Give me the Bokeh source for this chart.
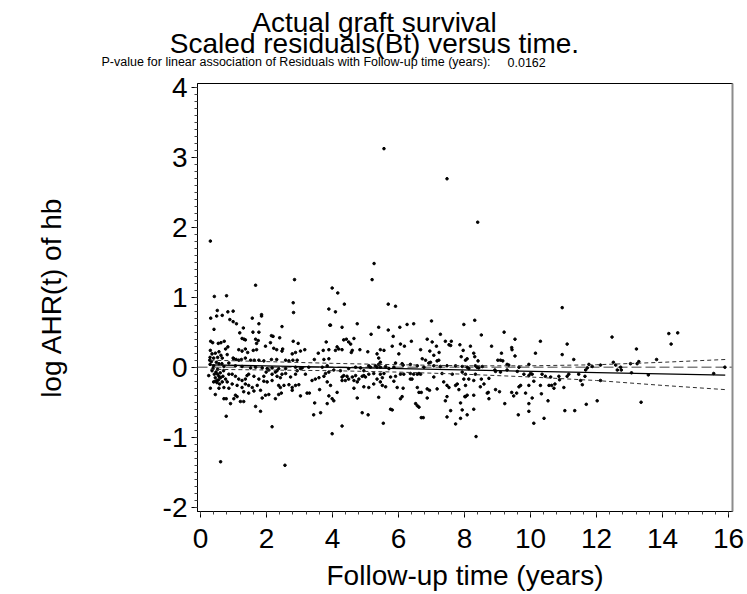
from bokeh.plotting import figure
from bokeh.layouts import column
from bokeh.models import Span, SingleIntervalTicker, FixedTicker, LinearAxis, Range1d, CustomJSTickFormatter
from bokeh.core.properties import value
from bokeh.embed import file_html
from bokeh.resources import INLINE

title_lines = ["Actual graft survival", "Scaled residuals(Bt) versus time."]
pvalue_text = "P-value for linear association of Residuals with Follow-up time (years):"
pvalue = "0.0162"
x_label = "Follow-up time (years)"
y_label = "log AHR(t) of hb"

# scaled residuals (follow-up time in years, residual)
time_years = [
    1.67, 2.85, 0.42, 0.79, 2.81, 2.82, 3.89, 0.51, 0.31, 0.66, 0.49, 0.83, 0.99, 0.89, 0.99, 1.09, 1.57, 1.85, 1.85, 1.77,
    1.30, 2.47, 3.92, 0.41, 1.19, 1.59, 1.77, 2.15, 2.20, 2.40, 1.26, 1.36, 1.32, 1.67, 1.75, 0.31, 0.37, 0.54, 0.62, 0.72,
    2.81, 2.96, 2.12, 1.97, 1.70, 3.81, 0.83, 0.76, 1.16, 1.26, 1.36, 1.43, 1.60, 1.70, 2.22, 2.31, 2.49, 2.47, 2.78, 2.88,
    3.03, 3.16, 3.57, 3.72, 3.89, 0.30, 0.35, 0.45, 0.56, 0.62, 0.29, 0.40, 0.52, 0.66, 0.81, 1.01, 0.99, 1.08, 1.16, 1.24,
    1.36, 1.52, 1.63, 1.77, 1.92, 2.15, 2.31, 2.58, 2.68, 2.80, 2.93, 3.45, 3.74, 3.89,
    0.29, 0.40, 0.56, 0.71, 0.86, 1.06, 1.26, 1.52, 1.67, 1.87, 2.02, 2.17, 2.37, 2.58, 2.88, 3.03, 3.08, 3.28, 3.69, 3.84,
    0.35, 0.47, 0.52, 0.56, 0.61, 0.68, 0.76, 0.51, 0.40, 0.45, 0.66, 0.81, 0.86, 0.96, 1.06, 1.16, 1.26, 1.36, 1.41, 1.46,
    1.62, 1.77, 1.92, 1.99, 2.07, 2.17, 2.27, 2.32, 2.42, 2.47, 2.58, 2.73, 2.88, 2.93, 2.32, 2.17, 2.02, 1.92, 2.37, 2.42,
    2.53, 2.68, 2.78, 2.88, 2.98, 3.18, 3.38, 3.48, 3.59, 3.74, 3.79, 3.89, 3.94, 3.84, 0.30, 0.45, 0.56, 0.71, 0.86, 0.96,
    1.11, 1.26, 1.36, 1.46, 1.57, 1.62, 1.72, 1.82, 1.46, 1.31, 1.06, 1.01, 1.11, 0.71, 0.91, 0.78, 1.21, 1.31, 1.87, 1.97,
    2.07, 2.27, 2.37, 2.45, 2.78, 3.03, 3.23, 3.30, 3.61, 3.46, 3.89, 3.84, 3.64, 3.43, 1.67, 1.82, 2.17, 0.78, 0.61, 2.56,
    0.45, 0.50, 0.55, 0.42, 0.60, 0.38, 0.48, 0.33, 0.25, 0.58, 0.52, 0.65, 0.28, 0.70,
    5.20, 3.99, 4.16, 4.36, 4.09, 5.69, 5.91, 3.94, 4.75, 4.29, 5.40, 5.69, 6.04, 6.26, 6.46, 7.00, 7.98, 5.17, 5.84, 7.27,
    4.34, 4.42, 4.49, 4.55, 4.65, 6.06, 6.18, 6.39, 6.87, 7.02, 7.15, 7.42, 7.53, 7.60, 7.58, 7.86, 4.14, 4.09, 4.19, 4.29,
    4.60, 4.57, 4.83, 5.07, 5.45, 5.56, 5.35, 5.40, 5.81, 6.01, 6.67, 6.95, 7.07, 7.23, 7.96, 7.90, 6.72, 6.82, 6.92, 6.97,
    7.17, 7.22, 6.11, 5.91, 5.45, 5.40, 5.10, 5.15, 5.30, 5.35, 5.45, 5.61, 5.71, 5.86, 6.14, 6.36, 6.57, 6.77, 7.07, 7.27,
    7.47, 7.73, 7.93, 4.04, 4.24, 4.49, 4.70, 4.85, 4.95, 4.34, 4.29, 4.44, 4.49, 4.60, 4.70, 4.80, 4.90, 4.95, 5.00, 5.10,
    5.25, 5.45, 5.51, 5.56, 5.76, 5.91, 6.06, 6.16, 6.36, 6.41, 6.46, 6.57, 6.62, 6.67, 7.07, 7.32, 7.63, 7.93, 7.98, 4.29,
    4.39, 4.65, 4.75, 5.35, 5.45, 5.51, 5.61, 4.95, 4.65, 5.10, 5.25, 5.86, 5.96, 6.14, 6.36, 6.57, 6.62, 6.69, 6.87, 6.94,
    7.17, 7.37, 7.47, 7.53, 7.73, 7.78, 7.83, 8.01, 4.14, 4.75, 3.99, 4.04, 5.40, 6.06, 6.11, 6.87, 7.47, 7.42, 7.88, 7.93,
    6.52, 6.57, 6.62, 5.76, 5.81, 4.90, 5.08, 6.69, 6.75, 7.47, 7.58, 7.88, 7.73, 5.54, 4.29, 3.99,
    10.96, 8.31, 8.51, 9.20, 9.53, 10.30, 11.11, 8.18, 8.82, 9.43, 9.44, 10.15, 10.96, 11.31, 8.28, 8.31, 8.41, 8.08, 8.03, 9.01,
    9.09, 9.16, 9.29, 9.34, 9.12, 9.53, 9.95, 9.65, 8.08, 8.13, 8.33, 8.38, 8.43, 8.54, 8.92, 9.09, 8.94, 9.29, 9.60, 10.00,
    9.80, 9.95, 10.05, 10.35, 10.45, 10.61, 10.86, 11.16, 11.11, 11.46, 11.67, 11.72, 11.77, 11.87, 8.03, 8.13, 8.33, 8.28, 8.51, 8.59,
    8.74, 8.48, 8.03, 10.10, 10.30, 10.56, 10.64, 10.71, 10.74, 10.88, 11.01, 11.52, 11.57, 11.65, 9.65, 9.70, 9.95, 8.94, 9.06, 8.69,
    8.72, 8.74, 8.28, 8.08, 8.03, 9.43, 9.58, 9.49, 9.85, 10.05, 10.33, 10.53, 9.22, 9.95, 8.28, 8.08, 9.63, 9.95, 10.10, 10.41,
    11.04, 11.34, 11.69, 12.02, 8.35,
    12.47, 14.19, 14.46, 14.26, 13.21, 13.82, 12.51, 12.58, 13.28, 13.23, 13.03, 12.12, 12.73, 12.63, 12.75, 13.06, 13.57, 15.55, 15.89, 12.12,
    13.35,
    5.56, 7.47, 0.30, 5.26, 8.40,
]
residuals = [
    1.17, 1.25, 1.01, 1.02, 0.92, 0.78, 0.83, 0.81, 0.70, 0.74, 0.73, 0.79, 0.80, 0.68, 0.65, 0.62, 0.70, 0.75, 0.73, 0.62,
    0.56, 0.58, 0.60, 0.54, 0.49, 0.50, 0.50, 0.45, 0.44, 0.42, 0.41, 0.39, 0.40, 0.40, 0.38, 0.37, 0.35, 0.34, 0.35, 0.37,
    0.37, 0.34, 0.35, 0.30, 0.34, 0.36, 0.29, 0.26, 0.25, 0.23, 0.26, 0.21, 0.24, 0.25, 0.27, 0.25, 0.26, 0.23, 0.19, 0.21,
    0.23, 0.25, 0.20, 0.24, 0.25, 0.24, 0.19, 0.20, 0.22, 0.17, 0.14, 0.13, 0.14, 0.13, 0.18, 0.12, 0.13, 0.11, 0.10, 0.11,
    0.13, 0.10, 0.10, 0.10, 0.09, 0.11, 0.11, 0.10, 0.09, 0.10, 0.10, 0.11, 0.11, 0.12,
    0.04, 0.02, 0.05, 0.01, 0.06, 0.02, 0.01, -0.01, 0.00, -0.01, -0.02, -0.01, -0.02, -0.02, 0.00, -0.02, -0.01, 0.00, 0.00, 0.02,
    -0.05, -0.07, -0.10, -0.13, -0.15, -0.13, -0.17, -0.19, -0.21, -0.20, -0.21, -0.21, -0.10, -0.10, -0.13, -0.17, -0.19, -0.17, -0.12, -0.10,
    -0.13, -0.17, -0.13, -0.07, -0.04, -0.10, -0.07, -0.13, -0.15, -0.10, -0.09, -0.14, -0.10, -0.05, -0.05, -0.19, -0.21, -0.20, -0.26, -0.29,
    -0.26, -0.25, -0.29, -0.26, -0.25, -0.10, -0.19, -0.17, -0.15, -0.13, -0.09, -0.07, -0.26, -0.21, -0.30, -0.39, -0.30, -0.29, -0.30, -0.24,
    -0.26, -0.29, -0.24, -0.26, -0.29, -0.34, -0.26, -0.33, -0.37, -0.35, -0.40, -0.45, -0.42, -0.45, -0.52, -0.45, -0.49, -0.49, -0.44, -0.40,
    -0.39, -0.45, -0.39, -0.37, -0.33, -0.41, -0.37, -0.37, -0.32, -0.51, -0.41, -0.52, -0.65, -0.68, -0.56, -0.63, -0.85, -0.70, -1.35, -1.40,
    -0.15, -0.22, -0.18, -0.10, -0.08, -0.02, 0.07, 0.08, -0.12, -0.24, -0.03, 0.05, 0.10, -0.05,
    1.25, 1.13, 1.06, 0.90, 0.79, 0.90, 0.87, 0.60, 0.62, 0.57, 0.57, 0.53, 0.57, 0.61, 0.62, 0.66, 0.61, 0.47, 0.44, 0.47,
    0.39, 0.40, 0.36, 0.33, 0.41, 0.33, 0.30, 0.37, 0.40, 0.36, 0.30, 0.37, 0.32, 0.37, 0.31, 0.32, 0.29, 0.24, 0.26, 0.25,
    0.24, 0.21, 0.25, 0.22, 0.25, 0.24, 0.19, 0.13, 0.30, 0.19, 0.25, 0.23, 0.17, 0.21, 0.24, 0.15, 0.12, 0.10, 0.06, 0.07,
    0.09, 0.10, 0.05, 0.06, 0.07, 0.04, 0.02, 0.00, 0.02, 0.00, 0.00, 0.01, -0.02, 0.00, 0.03, 0.04, 0.02, 0.00, 0.02, 0.01,
    0.02, 0.02, 0.01, -0.04, -0.05, -0.02, 0.00, -0.01, -0.05, -0.12, -0.14, -0.13, -0.17, -0.14, -0.12, -0.17, -0.13, -0.12, -0.14, -0.10,
    -0.09, -0.10, -0.15, -0.09, -0.14, -0.13, -0.10, -0.10, -0.09, -0.17, -0.10, -0.10, -0.09, -0.10, -0.14, -0.09, -0.10, -0.07, -0.17, -0.19,
    -0.19, -0.19, -0.21, -0.17, -0.21, -0.26, -0.28, -0.28, -0.30, -0.29, -0.24, -0.20, -0.29, -0.30, -0.17, -0.29, -0.36, -0.36, -0.31, -0.33,
    -0.31, -0.21, -0.26, -0.29, -0.26, -0.24, -0.32, -0.42, -0.36, -0.44, -0.45, -0.48, -0.43, -0.45, -0.42, -0.44, -0.42, -0.48, -0.51, -0.61,
    -0.52, -0.55, -0.57, -0.60, -0.61, -0.65, -0.68, -0.72, -0.72, -0.71, -0.62, -0.73, -0.81, -0.80, -0.84, -0.95,
    0.85, 0.67, 0.46, 0.50, 0.40, 0.37, 0.33, 0.30, 0.30, 0.28, 0.25, 0.20, 0.18, 0.11, 0.20, 0.15, 0.09, 0.12, 0.10, 0.10,
    0.10, 0.09, 0.04, 0.03, 0.20, 0.16, 0.04, 0.00, 0.00, -0.02, 0.02, 0.00, -0.01, 0.01, -0.04, -0.07, -0.06, -0.04, -0.06, -0.09,
    -0.10, -0.12, -0.10, -0.10, -0.13, -0.14, -0.13, -0.10, -0.13, -0.10, -0.04, -0.01, 0.04, 0.01, -0.10, -0.17, -0.10, -0.19, -0.17, -0.24,
    -0.16, -0.28, -0.26, -0.20, -0.26, -0.26, -0.26, -0.30, -0.24, -0.18, -0.29, -0.19, -0.25, -0.13, -0.28, -0.26, -0.26, -0.32, -0.35, -0.37,
    -0.36, -0.45, -0.40, -0.40, -0.42, -0.36, -0.37, -0.41, -0.37, -0.44, -0.38, -0.48, -0.52, -0.52, -0.60, -0.68, -0.68, -0.63, -0.80, -0.73,
    -0.62, -0.62, -0.53, -0.48, -0.99,
    0.43, 0.48, 0.49, 0.33, 0.26, 0.11, 0.07, 0.03, 0.08, 0.05, 0.05, 0.03, 0.00, -0.04, -0.04, -0.08, -0.11, -0.09, 0.00, -0.19,
    -0.50,
    3.12, 2.69, 1.80, 1.48, 2.07,
]

# fitted linear trend and its confidence band
fit_x = [0.3, 15.9]
fit_y = [0.034, -0.114]
band_x = [0.3, 2, 4, 6, 8, 10, 12, 14, 15.9]
band_upper = [0.10, 0.08, 0.055, 0.035, 0.02, 0.02, 0.035, 0.07, 0.11]
band_lower = [-0.03, -0.04, -0.05, -0.07, -0.10, -0.14, -0.19, -0.26, -0.32]

x_major = 2
y_major = 1

FONT = "Liberation Sans"
HEADER_H = 72

# ---- header with the titles ----
header = figure(width=747, height=HEADER_H, x_range=Range1d(0, 747), y_range=Range1d(HEADER_H, 0),
                title=None, output_backend="svg", toolbar_location=None,
                x_axis_location=None, y_axis_location=None, min_border=0)
header.frame_align = False
header.grid.visible = False
header.outline_line_color = None
header.text(x=[374, 374], y=[22, 43], text=title_lines, text_align="center",
            text_baseline="alphabetic", text_font=value(FONT), text_font_size="28px", text_color="black")
header.text(x=[101], y=[61.5], text=[pvalue_text], text_align="left",
            text_baseline="alphabetic", text_font=value(FONT), text_font_size="12.5px", text_color="black")
header.text(x=[507], y=[61.5], text=[pvalue], text_align="left",
            text_baseline="alphabetic", text_font=value(FONT), text_font_size="12.5px", text_color="black")

# ---- main plot ----
p = figure(width=747, height=594 - HEADER_H,
           x_range=Range1d(-0.09, 16.12), y_range=Range1d(-2.06, 4.05),
           title=None, output_backend="svg", toolbar_location=None,
           min_border_left=197, min_border_right=15, min_border_top=83 - HEADER_H, min_border_bottom=83)
p.frame_align = False
p.xgrid.visible = False
p.ygrid.visible = False
p.outline_line_color = "black"
p.outline_line_width = 1

p.xaxis.ticker = SingleIntervalTicker(interval=x_major, num_minor_ticks=5)
p.yaxis.ticker = SingleIntervalTicker(interval=y_major, num_minor_ticks=10)
fmt = CustomJSTickFormatter(code="return tick.toFixed(0);")
for ax in (p.xaxis[0], p.yaxis[0]):
    ax.formatter = fmt
    ax.major_label_text_font = FONT
    ax.major_label_text_font_size = "28px"
    ax.major_label_text_color = "black"
    ax.axis_label_text_font = FONT
    ax.axis_label_text_font_size = "28px"
    ax.axis_label_text_font_style = "normal"
    ax.axis_label_text_color = "black"
    ax.axis_line_color = "black"
    ax.major_tick_line_color = "black"
    ax.minor_tick_line_color = "#444444"
    ax.major_tick_out = 6
    ax.major_tick_in = 0
    ax.minor_tick_out = 3
    ax.minor_tick_in = 0
p.xaxis.axis_label = x_label
p.yaxis.axis_label = y_label
p.xaxis.major_label_standoff = 11
p.yaxis.major_label_standoff = 4
p.xaxis.axis_label_standoff = 9
p.yaxis.axis_label_standoff = 93

right_axis = LinearAxis(ticker=FixedTicker(ticks=[]), axis_line_color="#8c8c8c", axis_line_width=2,
                        major_tick_line_color=None, minor_tick_line_color=None,
                        major_label_text_font_size="0px")
p.add_layout(right_axis, "right")

zero_line = Span(location=0, dimension="width", line_color="#808080", line_width=1.6,
                 line_dash="10 4", level="underlay")
p.add_layout(zero_line)

p.scatter(time_years, residuals, size=2.6, color="black", marker="circle")
p.line(fit_x, fit_y, line_color="black", line_width=1.3)
p.line(band_x, band_upper, line_color="#303030", line_width=1, line_dash="4 3")
p.line(band_x, band_lower, line_color="#303030", line_width=1, line_dash="4 3")

layout = column(header, p, spacing=0)
open("out.html", "w").write(file_html(layout, INLINE))
